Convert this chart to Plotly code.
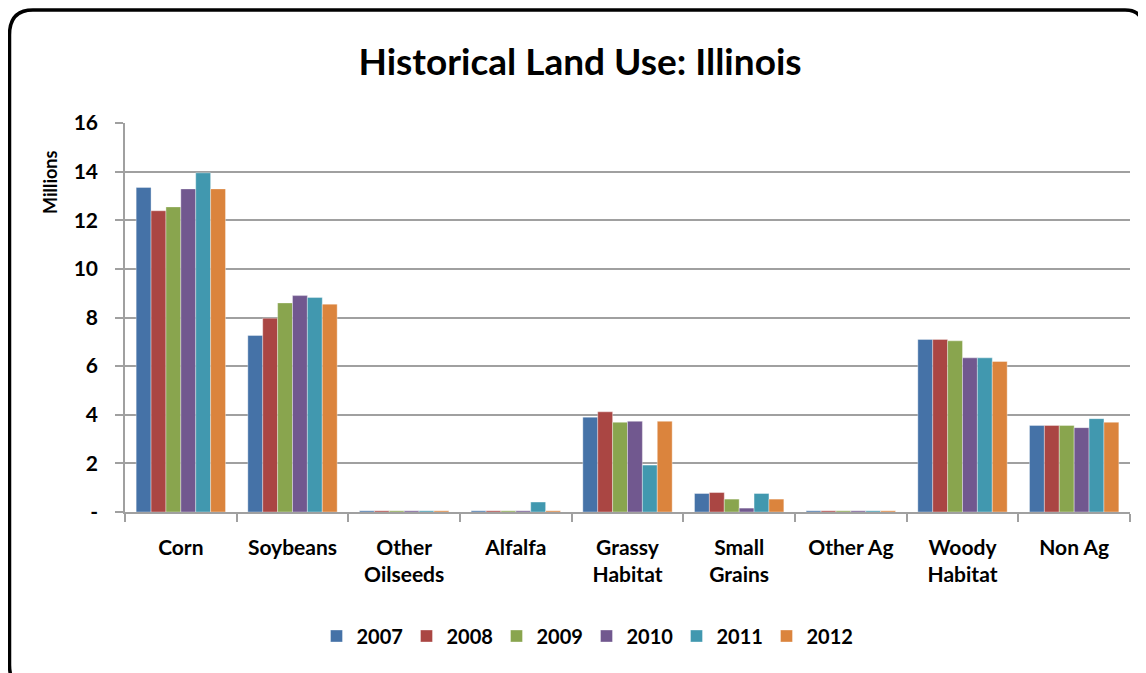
import plotly.graph_objects as go

categories = ["Corn", "Soybeans", "Other<br>Oilseeds", "Alfalfa", "Grassy<br>Habitat",
              "Small<br>Grains", "Other Ag", "Woody<br>Habitat", "Non Ag"]
years = ["2007", "2008", "2009", "2010", "2011", "2012"]
v2007 = [13.35, 7.26, 0.05, 0.05, 3.90, 0.76, 0.05, 7.10, 3.56]
v2008 = [12.39, 7.97, 0.05, 0.05, 4.12, 0.80, 0.05, 7.10, 3.56]
v2009 = [12.55, 8.60, 0.05, 0.05, 3.69, 0.53, 0.05, 7.04, 3.56]
v2010 = [13.29, 8.90, 0.05, 0.05, 3.73, 0.16, 0.05, 6.34, 3.47]
v2011 = [13.95, 8.82, 0.05, 0.41, 1.93, 0.76, 0.05, 6.34, 3.84]
v2012 = [13.29, 8.55, 0.05, 0.05, 3.73, 0.53, 0.05, 6.19, 3.69]
series = [v2007, v2008, v2009, v2010, v2011, v2012]
colors = ["#4572A7", "#AA4643", "#89A54E", "#71588F", "#4198AF", "#DB843D"]
ytickvals = [0, 2, 4, 6, 8, 10, 12, 14, 16]
yticktext = ["-", "2", "4", "6", "8", "10", "12", "14", "16"]

OFF = 8  # page body margin
W, H = 1146 - OFF, 673 - OFF
L, R, T, B = 125 - OFF, 16, 123 - OFF, 161
PW, PH = W - L - R, H - T - B

def px(x):
    return (x - OFF - L) / PW

def py(y):
    return (H - B - (y - OFF)) / PH

FONT = "Lato, Open Sans, sans-serif"

fig = go.Figure()
for i, (name, vals, c) in enumerate(zip(years, series, colors)):
    fig.add_trace(go.Bar(name=name, x=categories, y=vals,
                         legendwidth=52 if i == len(years) - 1 else 45,
                         marker=dict(color=c, line=dict(width=0.6, color="rgba(255,255,255,0.6)"))))

border = (f"M {px(1143)},{py(700)} L {px(1143)},{py(28)} Q {px(1143)},{py(10)} {px(1125)},{py(10)} "
          f"L {px(33)},{py(10)} Q {px(9.5)},{py(10)} {px(9.5)},{py(35)} "
          f"L {px(9.5)},{py(665)} Q {px(9.5)},{py(690)} {px(33)},{py(690)} L {px(1143)},{py(690)}")

fig.update_layout(
    width=W, height=H,
    margin=dict(l=L, r=R, t=T, b=B),
    paper_bgcolor="white", plot_bgcolor="white",
    barmode="group", bargap=0.2, bargroupgap=0,
    font=dict(family=FONT, size=20, color="black"),
    title=dict(text="<b>Historical Land Use: Illinois</b>", xref="container", yref="container",
               x=(580 - OFF) / W, xanchor="center",
               y=1 - (62 - OFF) / H, yanchor="middle", font=dict(size=37, family=FONT)),
    xaxis=dict(type="category", tickson="boundaries", ticks="outside", ticklen=8,
               tickcolor="#A0A0A0", tickwidth=1.5, showline=True, linecolor="#A0A0A0",
               linewidth=1.5, showgrid=False, tickfont=dict(size=21, family=FONT, weight="bold"),
               range=[-0.5, 8.5], ticklabelstandoff=16),
    yaxis=dict(range=[0, 16], tickvals=ytickvals, ticktext=yticktext, showgrid=True,
               gridcolor="#A0A0A0", gridwidth=1.5, ticks="outside", ticklen=8,
               tickcolor="#A0A0A0", tickwidth=1.5, showline=True, linecolor="#A0A0A0",
               linewidth=1.5, zeroline=False, tickfont=dict(size=21, family=FONT, weight="bold"),
               ticklabelstandoff=13),
    legend=dict(orientation="h", x=px(590), xanchor="center",
                y=py(636), yanchor="middle", font=dict(size=20, family=FONT, weight="bold"),
                traceorder="normal", itemwidth=30, entrywidthmode="pixels"),
    shapes=[dict(type="path", path=border, xref="paper", yref="paper",
                 line=dict(color="black", width=3.5), layer="above")],
    annotations=[dict(text="<b>Millions</b>", x=px(50), y=py(183), xref="paper", yref="paper",
                      textangle=-90, showarrow=False, font=dict(size=18, family=FONT),
                      xanchor="center", yanchor="middle")],
)
fig.write_html("out.html")
